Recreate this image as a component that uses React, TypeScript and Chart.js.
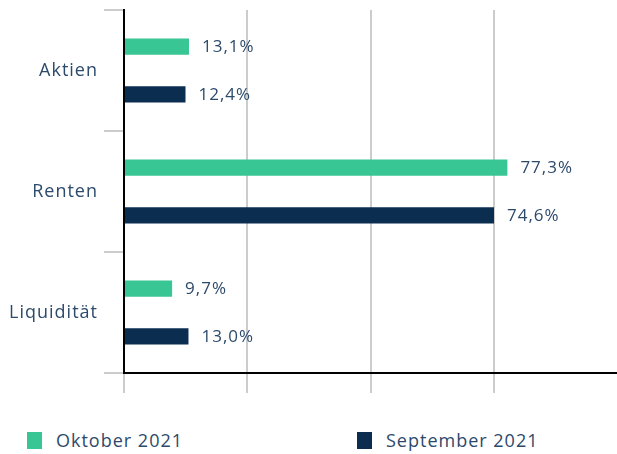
import React, { useEffect, useRef } from "react";
import { Chart, registerables } from "chart.js";
Chart.register(...registerables);

const categories = ["Aktien", "Renten", "Liquidität"];
const oktober2021 = [13.1, 77.3, 9.7];
const september2021 = [12.4, 74.6, 13.0];
const seriesLabels = ["Oktober 2021", "September 2021"];
const colors = ["#38C694", "#0B2D50"];
const textColor = "#2C4A6B";
const FONT = "'Open Sans', 'Noto Sans', sans-serif";

const spacing = {
  id: "spacing",
  beforeDraw(chart: any) {
    chart.ctx.letterSpacing = "1px";
  },
};

const valueLabels = {
  id: "valueLabels",
  afterDatasetsDraw(chart: any) {
    const ctx = chart.ctx;
    ctx.save();
    ctx.letterSpacing = "1px";
    ctx.font = `17px ${FONT}`;
    ctx.fillStyle = textColor;
    ctx.textBaseline = "middle";
    ctx.textAlign = "left";
    chart.data.datasets.forEach((ds: any, i: number) => {
      const meta = chart.getDatasetMeta(i);
      meta.data.forEach((bar: any, j: number) => {
        const v = ds.data[j];
        const txt = v.toFixed(1).replace(".", ",") + "%";
        ctx.fillText(txt, bar.x + 13, bar.y + 1);
      });
    });
    ctx.restore();
  },
};

export default function App() {
  const ref = useRef<HTMLCanvasElement>(null);
  useEffect(() => {
    const chart = new Chart(ref.current!, {
      type: "bar",
      data: {
        labels: categories,
        datasets: [
          { label: seriesLabels[0], data: oktober2021, backgroundColor: colors[0] },
          { label: seriesLabels[1], data: september2021, backgroundColor: colors[1] },
        ],
      },
      options: {
        indexAxis: "y",
        animation: false,
        responsive: false,
        maintainAspectRatio: false,
        layout: { padding: { top: 10, bottom: 7, left: 0, right: 0 } },
        plugins: { legend: { display: false }, tooltip: { enabled: false } },
        datasets: { bar: { categoryPercentage: 0.79, barPercentage: 0.34 } },
        scales: {
          x: {
            min: 0,
            max: 99.4,
            ticks: { stepSize: 25, display: false },
            grid: {
              color: (c: any) => (c.index < 4 ? "#CCCCCC" : "rgba(0,0,0,0)"),
              lineWidth: 2,
              drawTicks: true,
              tickLength: 20,
            },
            border: { color: "#000000", width: 2 },
            afterFit(scale: any) {
              scale.height = 20;
              scale.paddingLeft = 0;
              scale.paddingRight = 0;
            },
          },
          y: {
            offset: true,
            ticks: { color: textColor, font: { family: FONT, size: 18 }, padding: 6 },
            grid: { offset: true, drawOnChartArea: false, drawTicks: true, tickLength: 20, color: "#CCCCCC", lineWidth: 2 },
            border: { color: "#000000", width: 2 },
            afterFit(scale: any) {
              scale.width = 124;
              scale.paddingTop = 0;
              scale.paddingBottom = 0;
            },
          },
        },
      },
      plugins: [spacing, valueLabels],
    });
    return () => chart.destroy();
  }, []);

  const legendItem = (i: number, left: number) => (
    <div style={{ position: "absolute", left, top: 428, display: "flex", alignItems: "center", fontFamily: FONT, fontSize: 18, letterSpacing: "1px", color: textColor }}>
      <span style={{ display: "inline-block", width: 15, height: 17, background: colors[i], marginRight: 14 }} />
      <span>{seriesLabels[i]}</span>
    </div>
  );

  return (
    <div style={{ position: "fixed", left: 0, top: 0, width: 617, height: 454, background: "#fff", overflow: "hidden" }}>
      <canvas ref={ref} width={617} height={400} style={{ display: "block", width: 617, height: 400 }} />
      {legendItem(0, 27)}
      {legendItem(1, 357)}
    </div>
  );
}
